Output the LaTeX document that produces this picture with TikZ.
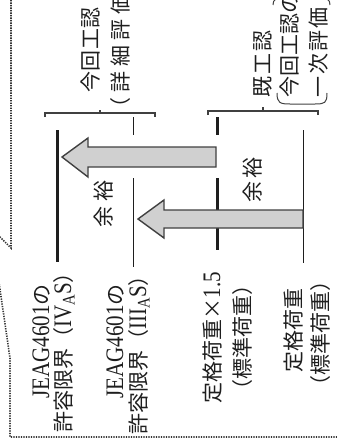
\documentclass[tikz,border=0pt]{standalone}
\usepackage{fontspec}
\setmainfont{Liberation Serif}
\newfontfamily\jp{Noto Sans CJK JP}
\usepackage{graphicx}
\definecolor{arrowfill}{RGB}{208,208,208}
\definecolor{ink}{RGB}{30,30,30}
\tikzset{
  lbl/.style={rotate=90, inner sep=0pt, anchor=center, text=ink,
    font=\fontsize{21}{24}\selectfont\jp, text height=17.5pt, text depth=1.5pt},
  thickln/.style={line width=3pt, ink},
  thinln/.style={line width=1pt, ink},
  brk/.style={line width=1.1pt, ink!85},
  blockarrow/.style={fill=arrowfill, draw=ink!85, line width=1.4pt, line join=miter},
  border/.style={ink!90, line width=1.6pt, dash pattern=on 1.3pt off 1.2pt},
}
\newcommand{\lat}[1]{{\rmfamily\scalebox{1}[1.2]{#1}}}
\begin{document}
\begin{tikzpicture}[x=1pt,y=-1pt]
\useasboundingbox (0,0) rectangle (337,444);
\begin{scope}
\clip (0,0) rectangle (337,444);
% dotted callout border
\draw[border] (11,-5) -- (11,248) -- (-9,228) -- (10,358) -- (10,437) -- (345,437);

% vertical level lines
\draw[thickln] (57,130) -- (57,262);
\draw[thinln] (133,117) -- (133,135);
\draw[thinln] (133,178) -- (133,267);
\draw[thickln] (217,117) -- (217,135);
\draw[thickln] (217,178) -- (217,250);
\draw[thinln] (303,130) -- (303,263);

% block arrows
\draw[blockarrow] (62,157) -- (88,138) -- (88,147) -- (216,147) -- (216,167) -- (88,167) -- (88,177) -- cycle;
\draw[blockarrow] (138,219) -- (164,200) -- (164,210) -- (303,210) -- (303,228) -- (164,228) -- (164,238) -- cycle;

% brackets
\draw[brk] (45,117) -- (45,113) -- (155,113) -- (155,117);
\draw[brk] (100,113) -- (100,110);
\draw[brk] (208,115) -- (208,111) -- (318,111) -- (318,115);
\draw[brk] (263,111) -- (263,107);

% big parentheses around the second group
\draw[brk, line width=1pt] (277,93) .. controls (277,103) and (280,104) .. (290,104) -- (315,104) .. controls (325,104) and (327,103) .. (327,93);
\draw[brk, line width=1pt] (273,5) .. controls (273,-1) and (276,-2) .. (285,-2) -- (318,-2) .. controls (327,-2) and (330,-1) .. (330,5);

% top labels
\node[lbl] (konkai) at (90,50) {\makebox[85pt][s]{今\hfill 回\hfill 工\hfill 認}};
\node[lbl] (shosai) at (120,43) {\makebox[150pt][s]{（\hfill 詳\hfill 細\hfill 評\hfill 価\hfill ）}};
\node[lbl] (kiko) at (262,63.5) {\makebox[67pt][s]{既\hfill 工\hfill 認}};
\node[lbl] (konkai2) at (289,52) {\makebox[90pt][s]{今\hfill 回\hfill 工\hfill 認\hfill の}};
\node[lbl] (ichiji) at (318,52) {\makebox[90pt][s]{一\hfill 次\hfill 評\hfill 価}};

% margin labels
\node[lbl] (yoyu1) at (103,203.5) {\makebox[47pt][s]{余\hfill 裕}};
\node[lbl] (yoyu2) at (252,179.5) {\makebox[45pt][s]{余\hfill 裕}};

% bottom labels
\node[lbl] (jeagA) at (41,341.5) {\lat{JEAG4601}の};
\node[lbl] (limA) at (63,347.5) {許容限界（\lat{IV\textsubscript{A}S}）};
\node[lbl] (jeagB) at (115,341.5) {\lat{JEAG4601}の};
\node[lbl] (limB) at (138,350) {許容限界（\lat{III\textsubscript{A}S}）};
\node[lbl] (rated15) at (212,337.5) {定格荷重×\lat{1.5}};
\node[lbl] (std1) at (242,337) {（標準荷重）};
\node[lbl] (rated) at (293,330) {定格荷重};
\node[lbl] (std2) at (320,333) {（標準荷重）};
\end{scope}
\end{tikzpicture}
\end{document}
